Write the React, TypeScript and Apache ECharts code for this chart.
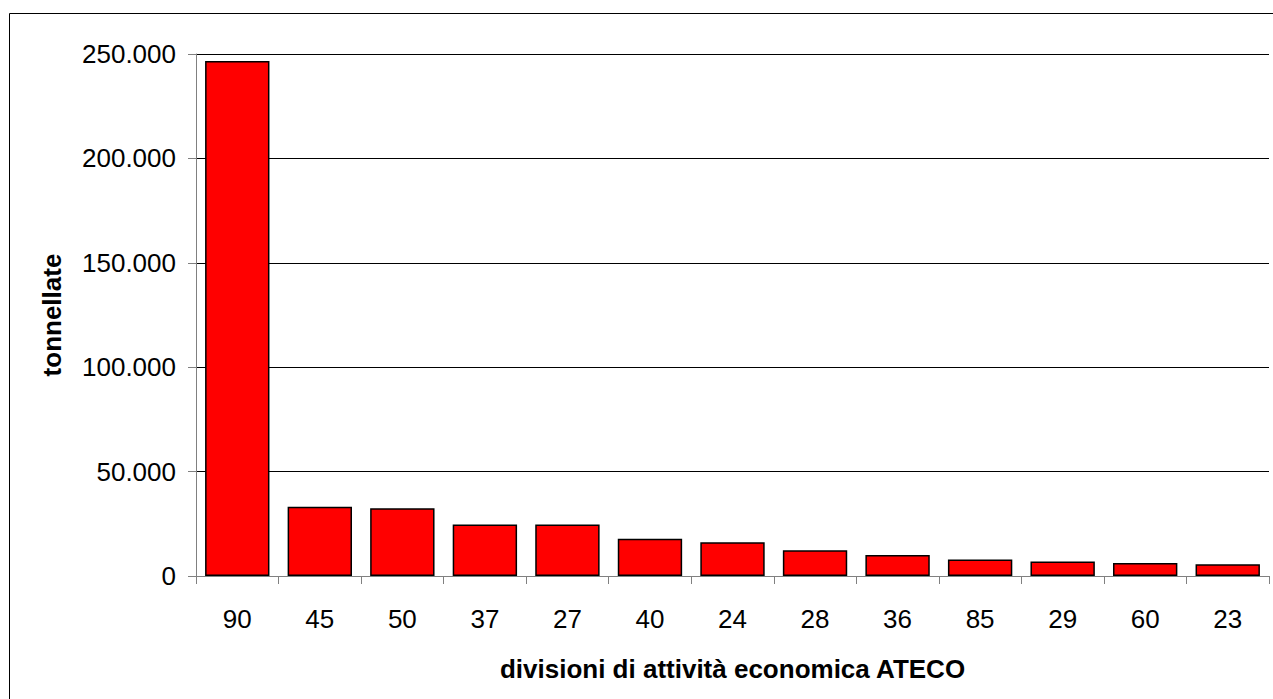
import React, { useEffect, useRef } from "react";
import * as echarts from "echarts";

const categories = ["90", "45", "50", "37", "27", "40", "24", "28", "36", "85", "29", "60", "23"];
const values = [246700, 33200, 32500, 24700, 24700, 17800, 16200, 12300, 10100, 7850, 6900, 6250, 5600];
const yTicks = [0, 50000, 100000, 150000, 200000, 250000];
const xTitle = "divisioni di attività economica ATECO";
const yTitle = "tonnellate";

const FONT = "'Liberation Sans', Arial, sans-serif";

function fmt(v: number): string {
  return String(Math.round(v)).replace(/\B(?=(\d{3})+(?!\d))/g, ".");
}

export default function App() {
  const ref = useRef<HTMLDivElement>(null);
  useEffect(() => {
    if (!ref.current) return;
    const chart = echarts.init(ref.current, undefined, { renderer: "svg" });
    chart.setOption({
      animation: false,
      backgroundColor: "#ffffff",
      textStyle: { fontFamily: FONT },
      graphic: [
        {
          type: "rect",
          shape: { x: 9.5, y: 13.5, width: 1300, height: 720 },
          style: { fill: "none", stroke: "#000", lineWidth: 1 },
          silent: true,
          z: -1,
        },
      ],
      grid: { left: 196, right: 4, top: 54, bottom: 123, containLabel: false },
      xAxis: {
        type: "category",
        data: categories,
        boundaryGap: true,
        name: xTitle,
        nameLocation: "middle",
        nameGap: 80,
        nameTextStyle: { fontFamily: FONT, fontSize: 26, fontWeight: "bold", color: "#000" },
        axisLine: { show: true, lineStyle: { color: "#808080", width: 1 } },
        axisTick: { show: true, length: 8, lineStyle: { color: "#808080", width: 1 } },
        axisLabel: { fontFamily: FONT, fontSize: 26, color: "#000", margin: 30, interval: 0 },
        splitLine: { show: false },
      },
      yAxis: {
        type: "value",
        min: yTicks[0],
        max: yTicks[yTicks.length - 1],
        interval: yTicks[1] - yTicks[0],
        name: yTitle,
        nameLocation: "middle",
        nameGap: 131,
        nameRotate: 90,
        nameTextStyle: { fontFamily: FONT, fontSize: 26, fontWeight: "bold", color: "#000" },
        axisLine: { show: true, lineStyle: { color: "#808080", width: 1 } },
        axisTick: { show: true, length: 8, lineStyle: { color: "#808080", width: 1 } },
        axisLabel: { fontFamily: FONT, fontSize: 26, color: "#000", margin: 20, formatter: (v: number) => fmt(v) },
        splitLine: { show: true, lineStyle: { color: "#000", width: 1 } },
      },
      series: [
        {
          type: "bar",
          data: values,
          barCategoryGap: "22%",
          itemStyle: { color: "#ff0000", borderColor: "#000", borderWidth: 1.5 },
        },
      ],
    });
    return () => chart.dispose();
  }, []);
  return (
    <div
      ref={ref}
      style={{ position: "fixed", left: 0, top: 0, width: 1273, height: 699, background: "#fff" }}
    />
  );
}
